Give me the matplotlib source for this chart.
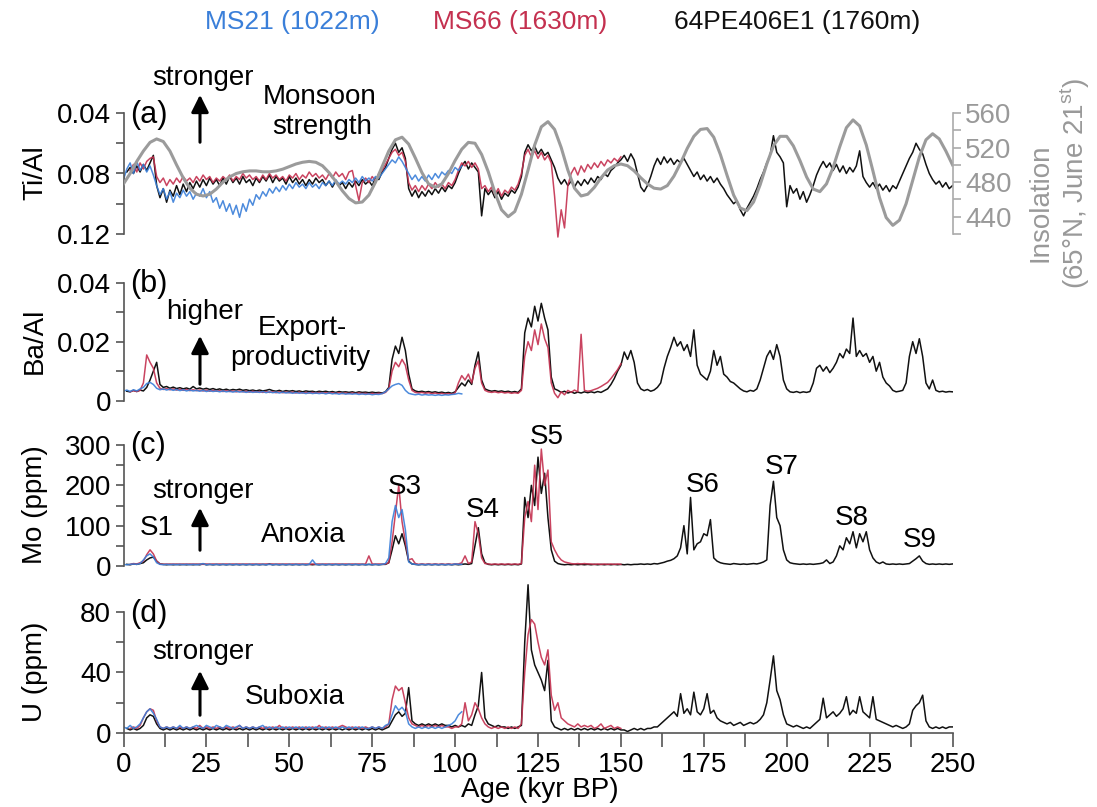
import matplotlib
matplotlib.use("Agg")
import matplotlib.pyplot as plt
import numpy as np

plt.rcParams["font.family"] = ["Liberation Sans", "DejaVu Sans"]
plt.rcParams["mathtext.fontset"] = "custom"
plt.rcParams["mathtext.rm"] = "Liberation Sans"

BLUE = "#3a7fd9"
RED = "#c4304f"
BLACK = "#111111"
GREY = "#9b9b9b"

# sampling grids (kyr BP)
age_blk = np.arange(1, 251)
age_red = np.arange(2, 151)
age_blu = np.arange(0, 103)
age_ins = np.arange(0, 251, 2)

# (a) Ti/Al
tial_blk = [
    0.079, 0.076, 0.080, 0.075, 0.079, 0.074, 0.078, 0.073, 0.068, 0.088,
    0.096, 0.090, 0.099, 0.091, 0.095, 0.088, 0.094, 0.087, 0.092, 0.086,
    0.090, 0.085, 0.089, 0.084, 0.088, 0.083, 0.087, 0.084, 0.088, 0.083,
    0.087, 0.082, 0.086, 0.083, 0.087, 0.082, 0.086, 0.084, 0.088, 0.083,
    0.086, 0.082, 0.085, 0.081, 0.086, 0.082, 0.085, 0.083, 0.087, 0.082,
    0.086, 0.083, 0.087, 0.084, 0.088, 0.084, 0.087, 0.083, 0.086, 0.084,
    0.088, 0.085, 0.089, 0.085, 0.088, 0.086, 0.090, 0.086, 0.089, 0.085,
    0.088, 0.084, 0.087, 0.085, 0.088, 0.083, 0.084, 0.079, 0.076, 0.070,
    0.064, 0.060, 0.066, 0.063, 0.070, 0.090, 0.095, 0.091, 0.096, 0.092,
    0.095, 0.091, 0.094, 0.090, 0.093, 0.089, 0.092, 0.088, 0.090, 0.086,
    0.080, 0.075, 0.072, 0.077, 0.073, 0.076, 0.079, 0.108, 0.090, 0.094,
    0.091, 0.096, 0.092, 0.097, 0.093, 0.095, 0.091, 0.093, 0.089, 0.082,
    0.066, 0.061, 0.065, 0.062, 0.067, 0.064, 0.068, 0.066, 0.071, 0.076,
    0.083, 0.087, 0.084, 0.088, 0.085, 0.089, 0.085, 0.088, 0.084, 0.087,
    0.083, 0.086, 0.082, 0.084, 0.080, 0.082, 0.078, 0.076, 0.073, 0.071,
    0.068, 0.072, 0.067, 0.071, 0.080, 0.089, 0.092, 0.088, 0.082, 0.075,
    0.070, 0.074, 0.069, 0.073, 0.070, 0.074, 0.071, 0.073, 0.070, 0.074,
    0.078, 0.082, 0.079, 0.084, 0.081, 0.085, 0.082, 0.086, 0.083, 0.087,
    0.090, 0.094, 0.097, 0.100, 0.098, 0.104, 0.108, 0.103, 0.099, 0.095,
    0.090, 0.084, 0.079, 0.073, 0.068, 0.055, 0.066, 0.069, 0.073, 0.102,
    0.088, 0.093, 0.090, 0.097, 0.092, 0.099, 0.094, 0.088, 0.081, 0.076,
    0.072, 0.076, 0.073, 0.078, 0.074, 0.079, 0.075, 0.080, 0.076, 0.079,
    0.075, 0.065, 0.082, 0.086, 0.089, 0.086, 0.090, 0.087, 0.091, 0.088,
    0.092, 0.088, 0.090, 0.085, 0.080, 0.075, 0.070, 0.066, 0.060, 0.064,
    0.067, 0.074, 0.080, 0.084, 0.087, 0.085, 0.089, 0.086, 0.090, 0.088,
]
tial_red = [
    0.078, 0.074, 0.079, 0.073, 0.077, 0.072, 0.070, 0.069, 0.082,
    0.086, 0.083, 0.088, 0.084, 0.087, 0.083, 0.086, 0.082, 0.085, 0.083,
    0.086, 0.082, 0.085, 0.081, 0.084, 0.082, 0.086, 0.083, 0.085, 0.082,
    0.084, 0.081, 0.085, 0.082, 0.084, 0.080, 0.083, 0.081, 0.084, 0.082,
    0.085, 0.081, 0.084, 0.080, 0.083, 0.081, 0.084, 0.082, 0.085, 0.081,
    0.083, 0.080, 0.084, 0.081, 0.083, 0.079, 0.082, 0.080, 0.083, 0.081,
    0.084, 0.080, 0.083, 0.079, 0.082, 0.080, 0.084, 0.079, 0.078, 0.088,
    0.098, 0.086, 0.083, 0.086, 0.082, 0.085, 0.080, 0.078, 0.074, 0.070,
    0.066, 0.064, 0.068, 0.066, 0.072, 0.086, 0.091, 0.088, 0.092, 0.088,
    0.091, 0.087, 0.090, 0.086, 0.089, 0.087, 0.090, 0.086, 0.088, 0.084,
    0.078, 0.073, 0.075, 0.072, 0.076, 0.073, 0.077, 0.090, 0.088, 0.092,
    0.089, 0.094, 0.090, 0.095, 0.091, 0.093, 0.089, 0.091, 0.087, 0.080,
    0.068, 0.064, 0.069, 0.065, 0.070, 0.066, 0.071, 0.068, 0.073, 0.095,
    0.122, 0.104, 0.116, 0.088, 0.080, 0.076, 0.081, 0.075, 0.079, 0.074,
    0.077, 0.073, 0.076, 0.072, 0.075, 0.071, 0.073, 0.070, 0.072, 0.069,
]
tial_blu = [
    0.084, 0.077, 0.073, 0.080, 0.072, 0.078, 0.074, 0.079, 0.075, 0.081,
    0.088, 0.094, 0.090, 0.097, 0.092, 0.099, 0.093, 0.096, 0.091, 0.095,
    0.092, 0.097, 0.093, 0.095, 0.090, 0.096, 0.092, 0.099, 0.096, 0.103,
    0.098, 0.105, 0.100, 0.107, 0.101, 0.109, 0.100, 0.105, 0.097, 0.101,
    0.094, 0.097, 0.092, 0.095, 0.090, 0.093, 0.089, 0.092, 0.088, 0.091,
    0.087, 0.090, 0.086, 0.089, 0.087, 0.090, 0.086, 0.089, 0.087, 0.090,
    0.086, 0.088, 0.085, 0.088, 0.084, 0.087, 0.085, 0.087, 0.084, 0.086,
    0.083, 0.086, 0.082, 0.085, 0.083, 0.085, 0.082, 0.083, 0.080, 0.077,
    0.074, 0.071, 0.073, 0.069, 0.072, 0.076, 0.080, 0.084, 0.081, 0.085,
    0.082, 0.085, 0.081, 0.084, 0.080, 0.083, 0.079, 0.081, 0.078, 0.080,
    0.076, 0.078, 0.075,
]
insolation = [
    478, 490, 504, 516, 526, 530, 527, 516, 500, 485,
    473, 466, 464, 466, 472, 480, 486, 490, 492, 493,
    493, 492, 492, 493, 495, 498, 501, 503, 504, 503,
    499, 491, 481, 470, 461, 456, 457, 465, 480, 498,
    516, 529, 532, 524, 508, 491, 478, 474, 478, 490,
    505, 518, 526, 525, 512, 492, 468, 448, 440, 446,
    466, 494, 523, 544, 550, 541, 520, 494, 473, 464,
    466, 474, 485, 494, 499, 501, 499, 493, 485, 478,
    473, 472, 476, 487, 502, 519, 533, 541, 542, 532,
    512, 488, 465, 450, 447, 457, 477, 501, 522, 533,
    533, 522, 505, 486, 472, 469, 478, 497, 521, 543,
    552, 545, 523, 493, 462, 439, 430, 436, 455, 482,
    509, 529, 536, 530, 516, 500,
]

# (b) Ba/Al
baal_blk = [
    0.0032, 0.0030, 0.0035, 0.0031, 0.0036, 0.0033, 0.0045, 0.0070, 0.0100, 0.0130,
    0.0055, 0.0045, 0.0048, 0.0042, 0.0046, 0.0041, 0.0044, 0.0040, 0.0043, 0.0039,
    0.0048, 0.0040, 0.0043, 0.0039, 0.0042, 0.0038, 0.0041, 0.0037, 0.0040, 0.0036,
    0.0039, 0.0035, 0.0038, 0.0036, 0.0039, 0.0035, 0.0037, 0.0034, 0.0036, 0.0033,
    0.0036, 0.0033, 0.0035, 0.0038, 0.0034, 0.0032, 0.0035, 0.0031, 0.0034, 0.0032,
    0.0034, 0.0031, 0.0033, 0.0030, 0.0033, 0.0031, 0.0032, 0.0029, 0.0032, 0.0030,
    0.0032, 0.0029, 0.0031, 0.0028, 0.0031, 0.0029, 0.0030, 0.0028, 0.0030, 0.0027,
    0.0030, 0.0028, 0.0029, 0.0027, 0.0029, 0.0027, 0.0028, 0.0026, 0.0030, 0.0045,
    0.0140, 0.0185, 0.0160, 0.0215, 0.0170, 0.0090, 0.0040, 0.0033, 0.0030, 0.0032,
    0.0029, 0.0031, 0.0028, 0.0030, 0.0027, 0.0029, 0.0026, 0.0028, 0.0025, 0.0030,
    0.0045, 0.0060, 0.0050, 0.0070, 0.0055, 0.0120, 0.0165, 0.0070, 0.0040, 0.0035,
    0.0032, 0.0034, 0.0031, 0.0033, 0.0030, 0.0032, 0.0029, 0.0031, 0.0028, 0.0040,
    0.0230, 0.0280, 0.0250, 0.0320, 0.0270, 0.0330, 0.0280, 0.0240, 0.0080, 0.0040,
    0.0035, 0.0028, 0.0032, 0.0026, 0.0030, 0.0025, 0.0029, 0.0026, 0.0030, 0.0027,
    0.0030, 0.0027, 0.0031, 0.0028, 0.0034, 0.0040, 0.0055, 0.0075, 0.0100, 0.0120,
    0.0165, 0.0140, 0.0170, 0.0130, 0.0060, 0.0040, 0.0034, 0.0038, 0.0032, 0.0036,
    0.0045, 0.0060, 0.0110, 0.0150, 0.0180, 0.0215, 0.0185, 0.0200, 0.0170, 0.0190,
    0.0150, 0.0240, 0.0120, 0.0090, 0.0080, 0.0070, 0.0100, 0.0170, 0.0120, 0.0150,
    0.0090, 0.0080, 0.0065, 0.0060, 0.0050, 0.0040, 0.0033, 0.0030, 0.0035, 0.0032,
    0.0040, 0.0070, 0.0110, 0.0150, 0.0170, 0.0140, 0.0190, 0.0150, 0.0070, 0.0040,
    0.0030, 0.0028, 0.0031, 0.0027, 0.0030, 0.0028, 0.0031, 0.0060, 0.0110, 0.0120,
    0.0100, 0.0115, 0.0095, 0.0110, 0.0130, 0.0160, 0.0145, 0.0175, 0.0160, 0.0280,
    0.0150, 0.0170, 0.0150, 0.0160, 0.0130, 0.0150, 0.0100, 0.0130, 0.0080, 0.0060,
    0.0050, 0.0035, 0.0030, 0.0032, 0.0035, 0.0060, 0.0150, 0.0200, 0.0160, 0.0210,
    0.0150, 0.0060, 0.0040, 0.0070, 0.0035, 0.0030, 0.0032, 0.0029, 0.0031, 0.0030,
]
baal_red = [
    0.0030, 0.0034, 0.0031, 0.0035, 0.0060, 0.0155, 0.0130, 0.0110, 0.0060,
    0.0042, 0.0038, 0.0041, 0.0037, 0.0040, 0.0036, 0.0039, 0.0035, 0.0038, 0.0034,
    0.0037, 0.0034, 0.0036, 0.0033, 0.0036, 0.0032, 0.0035, 0.0032, 0.0034, 0.0031,
    0.0034, 0.0031, 0.0033, 0.0030, 0.0033, 0.0030, 0.0032, 0.0029, 0.0032, 0.0029,
    0.0031, 0.0028, 0.0031, 0.0028, 0.0030, 0.0027, 0.0030, 0.0027, 0.0029, 0.0027,
    0.0029, 0.0026, 0.0029, 0.0026, 0.0028, 0.0026, 0.0028, 0.0025, 0.0028, 0.0025,
    0.0027, 0.0025, 0.0027, 0.0024, 0.0027, 0.0024, 0.0026, 0.0024, 0.0026, 0.0024,
    0.0026, 0.0024, 0.0025, 0.0023, 0.0025, 0.0023, 0.0025, 0.0024, 0.0028, 0.0040,
    0.0100, 0.0130, 0.0115, 0.0140, 0.0120, 0.0070, 0.0035, 0.0028, 0.0026, 0.0028,
    0.0025, 0.0027, 0.0024, 0.0026, 0.0023, 0.0025, 0.0022, 0.0024, 0.0022, 0.0026,
    0.0060, 0.0085, 0.0070, 0.0090, 0.0060, 0.0110, 0.0135, 0.0060, 0.0035, 0.0030,
    0.0028, 0.0030, 0.0027, 0.0029, 0.0026, 0.0028, 0.0025, 0.0027, 0.0025, 0.0035,
    0.0150, 0.0200, 0.0170, 0.0240, 0.0190, 0.0260, 0.0210, 0.0180, 0.0060, 0.0025,
    0.0010, 0.0030, 0.0020, 0.0035, 0.0028, 0.0036, 0.0030, 0.0225, 0.0035, 0.0032,
    0.0034, 0.0038, 0.0042, 0.0048, 0.0055, 0.0062, 0.0075, 0.0090, 0.0105, 0.0125,
]
baal_blu = [
    0.0032, 0.0036, 0.0031, 0.0037, 0.0033, 0.0040, 0.0045, 0.0058, 0.0062, 0.0055,
    0.0042, 0.0037, 0.0040, 0.0036, 0.0039, 0.0035, 0.0038, 0.0034, 0.0037, 0.0033,
    0.0036, 0.0033, 0.0035, 0.0032, 0.0035, 0.0031, 0.0034, 0.0031, 0.0033, 0.0030,
    0.0033, 0.0030, 0.0032, 0.0029, 0.0032, 0.0029, 0.0031, 0.0028, 0.0031, 0.0028,
    0.0030, 0.0028, 0.0031, 0.0027, 0.0030, 0.0027, 0.0029, 0.0026, 0.0029, 0.0026,
    0.0028, 0.0025, 0.0028, 0.0025, 0.0027, 0.0024, 0.0027, 0.0024, 0.0026, 0.0024,
    0.0026, 0.0023, 0.0026, 0.0023, 0.0025, 0.0022, 0.0025, 0.0022, 0.0024, 0.0022,
    0.0024, 0.0021, 0.0023, 0.0021, 0.0023, 0.0020, 0.0022, 0.0021, 0.0024, 0.0030,
    0.0040, 0.0050, 0.0055, 0.0058, 0.0052, 0.0035, 0.0025, 0.0022, 0.0020, 0.0022,
    0.0019, 0.0021, 0.0019, 0.0020, 0.0018, 0.0020, 0.0018, 0.0020, 0.0019, 0.0021,
    0.0022, 0.0025, 0.0023,
]

# (c) Mo (ppm)
mo_blk = [
    4, 3, 5, 4, 6, 8, 15, 20, 22, 12,
    5, 4, 3, 4, 3, 4, 3, 4, 3, 4,
    3, 4, 3, 5, 3, 4, 3, 4, 3, 4,
    3, 4, 3, 4, 3, 4, 3, 4, 3, 4,
    3, 4, 3, 5, 3, 4, 3, 4, 3, 4,
    3, 4, 3, 4, 3, 4, 3, 4, 3, 4,
    3, 4, 3, 4, 3, 4, 3, 4, 3, 4,
    3, 4, 3, 4, 3, 4, 3, 4, 4, 8,
    40, 75, 55, 80, 50, 12, 5, 4, 3, 4,
    3, 4, 3, 4, 3, 4, 3, 4, 3, 4,
    3, 4, 5, 4, 6, 50, 95, 30, 8, 4,
    3, 4, 3, 4, 3, 4, 3, 4, 3, 5,
    170, 120, 200, 150, 270, 180, 230, 120, 40, 12,
    6, 4, 3, 4, 3, 4, 3, 4, 3, 4,
    3, 4, 3, 4, 3, 4, 3, 4, 3, 4,
    3, 4, 3, 4, 4, 5, 4, 5, 4, 6,
    5, 7, 9, 12, 14, 18, 25, 45, 100, 30,
    170, 40, 55, 60, 80, 75, 115, 20, 12, 8,
    6, 5, 4, 6, 5, 4, 5, 4, 5, 6,
    5, 7, 10, 15, 150, 210, 120, 100, 40, 15,
    8, 6, 5, 4, 5, 4, 5, 4, 5, 6,
    8, 15, 6, 10, 25, 50, 40, 70, 55, 85,
    45, 80, 60, 85, 40, 20, 10, 6, 10, 5,
    4, 5, 4, 5, 4, 5, 6, 12, 18, 25,
    12, 6, 4, 5, 4, 5, 4, 5, 4, 5,
]
mo_red = [
    4, 6, 5, 8, 12, 28, 40, 30, 12,
    5, 4, 5, 4, 5, 4, 5, 4, 5, 4,
    5, 4, 5, 4, 5, 4, 5, 4, 5, 4,
    5, 4, 5, 4, 5, 4, 5, 4, 5, 4,
    5, 4, 5, 4, 5, 4, 5, 4, 5, 4,
    5, 4, 5, 4, 5, 4, 5, 4, 5, 4,
    5, 4, 5, 4, 5, 4, 5, 4, 5, 4,
    5, 4, 5, 25, 5, 4, 5, 4, 5, 8,
    60, 130, 200, 110, 60, 15, 18, 6, 4, 5,
    4, 5, 4, 5, 4, 5, 4, 5, 4, 5,
    5, 8, 25, 6, 10, 110, 80, 20, 6, 5,
    4, 5, 4, 5, 4, 5, 4, 5, 4, 6,
    120, 160, 110, 250, 140, 290, 200, 238, 60, 40,
    25, 15, 10, 8, 6, 5, 6, 5, 6, 5,
    5, 4, 5, 4, 5, 4, 5, 4, 5, 4,
]
mo_blu = [
    4, 3, 4, 5, 4, 6, 15, 25, 30, 22,
    8, 4, 3, 4, 3, 4, 3, 4, 3, 4,
    3, 4, 3, 4, 6, 3, 4, 3, 4, 3,
    4, 3, 4, 3, 4, 3, 4, 3, 4, 3,
    4, 3, 4, 3, 4, 3, 4, 3, 4, 3,
    4, 3, 4, 3, 4, 3, 4, 15, 4, 3,
    4, 3, 4, 3, 4, 3, 4, 3, 4, 3,
    4, 3, 4, 3, 4, 3, 4, 3, 4, 6,
    20, 110, 150, 120, 140, 90, 10, 5, 4, 3,
    4, 3, 4, 3, 4, 3, 4, 3, 4, 3,
    5, 4, 4,
]

# (d) U (ppm)
u_blk = [
    3, 2, 3, 2, 3, 5, 10, 12, 11, 6,
    3, 2, 3, 2, 3, 2, 3, 2, 3, 2,
    3, 2, 3, 2, 3, 2, 3, 2, 3, 2,
    3, 2, 3, 2, 3, 2, 3, 2, 3, 2,
    3, 2, 3, 2, 3, 2, 3, 2, 3, 2,
    3, 2, 3, 2, 3, 2, 3, 2, 3, 2,
    3, 2, 3, 2, 3, 2, 3, 2, 3, 2,
    3, 2, 3, 2, 3, 2, 3, 2, 3, 4,
    8, 12, 14, 11, 13, 30, 8, 6, 5, 6,
    5, 6, 5, 6, 5, 6, 5, 5, 4, 5,
    4, 5, 4, 6, 5, 12, 18, 40, 10, 6,
    5, 4, 5, 4, 4, 3, 4, 3, 4, 5,
    60, 98, 55, 45, 40, 35, 28, 48, 8, 4,
    3, 2, 3, 2, 3, 2, 3, 2, 3, 2,
    3, 2, 3, 2, 3, 2, 3, 2, 3, 2,
    2, 1, 2, 3, 2, 3, 2, 3, 3, 4,
    4, 6, 8, 10, 12, 14, 11, 26, 13, 16,
    12, 27, 14, 12, 16, 26, 13, 15, 10, 8,
    7, 6, 7, 5, 6, 7, 5, 6, 7, 6,
    7, 9, 12, 20, 35, 51, 28, 22, 12, 6,
    5, 4, 5, 4, 3, 4, 3, 5, 7, 9,
    23, 10, 12, 14, 11, 13, 16, 24, 12, 15,
    13, 24, 14, 12, 10, 24, 9, 8, 7, 6,
    5, 4, 5, 4, 3, 4, 6, 15, 18, 20,
    25, 8, 4, 3, 4, 3, 4, 3, 4, 4,
]
u_red = [
    3, 4, 3, 5, 10, 14, 16, 15, 8,
    4, 3, 4, 3, 4, 3, 4, 3, 4, 3,
    4, 3, 5, 3, 4, 3, 4, 3, 4, 3,
    4, 3, 4, 3, 5, 3, 4, 3, 4, 3,
    4, 3, 4, 3, 4, 3, 5, 3, 4, 3,
    4, 3, 4, 3, 4, 3, 4, 3, 5, 3,
    4, 3, 4, 3, 4, 5, 4, 3, 4, 3,
    4, 3, 4, 3, 4, 3, 4, 3, 4, 6,
    22, 31, 28, 30, 20, 10, 6, 5, 4, 5,
    4, 5, 4, 5, 4, 5, 4, 4, 3, 4,
    4, 6, 20, 8, 12, 20, 16, 10, 6, 4,
    3, 4, 3, 4, 3, 4, 3, 4, 3, 6,
    40, 65, 75, 72, 60, 50, 45, 55, 25, 15,
    20, 10, 8, 6, 5, 4, 6, 4, 5, 4,
    5, 3, 4, 6, 3, 4, 5, 3, 4, 3,
]
u_blu = [
    4, 3, 5, 3, 4, 6, 10, 14, 16, 13,
    9, 4, 3, 4, 3, 4, 3, 5, 3, 4,
    3, 4, 5, 4, 3, 5, 4, 3, 5, 4,
    3, 5, 4, 3, 4, 5, 3, 4, 3, 4,
    3, 4, 5, 3, 4, 3, 4, 3, 4, 3,
    4, 3, 4, 3, 4, 3, 4, 3, 4, 3,
    4, 3, 4, 3, 4, 3, 4, 3, 4, 3,
    4, 3, 4, 3, 3, 4, 3, 4, 3, 5,
    6, 12, 18, 15, 17, 14, 6, 4, 3, 4,
    3, 4, 3, 4, 3, 4, 3, 4, 5, 6,
    8, 12, 14,
]

W, H = 1097, 807
X0, X1 = 123.5, 952.5
FS = 20


def fx(px):
    return px / W


def fy(py):
    return 1 - py / H


def add_panel(fig, top, bottom):
    ax = fig.add_axes([fx(X0), fy(bottom), (X1 - X0) / W, (bottom - top) / H])
    ax.patch.set_alpha(0)
    ax.set_xlim(0, 250)
    for side in ("top", "right", "bottom"):
        ax.spines[side].set_visible(False)
    ax.spines["left"].set_color("#555555")
    ax.spines["left"].set_linewidth(1.2)
    ax.tick_params(axis="y", which="both", direction="out", length=6, width=1.2,
                   color="#555555", labelsize=FS, pad=3)
    ax.tick_params(axis="x", which="both", bottom=False, labelbottom=False)
    return ax


def draw_series(ax, blk, red, blu):
    ax.plot(age_blk, blk, color=BLACK, lw=1.1)
    ax.plot(age_red, red, color=RED, lw=1.1, alpha=0.9)
    ax.plot(age_blu, blu, color=BLUE, lw=1.1, alpha=0.9)


fig = plt.figure(figsize=(W / 100, H / 100), dpi=100)

# panel (a)
ax_a = add_panel(fig, 105.44, 241.56)
ax_a.set_ylim(0.125, 0.035)
draw_series(ax_a, tial_blk, tial_red, tial_blu)
ax_a.spines["left"].set_bounds(0.04, 0.12)
ax_a.set_yticks([0.04, 0.08, 0.12])
ax_a.set_yticklabels(["0.04", "0.08", "0.12"])
ax_a.set_yticks([0.06, 0.10], minor=True)

ax_ins = ax_a.twinx()
ax_ins.patch.set_alpha(0)
ax_ins.set_ylim(411.25, 568.75)
ax_ins.plot(age_ins, insolation, color=GREY, lw=2.2)
for side in ("top", "left", "bottom"):
    ax_ins.spines[side].set_visible(False)
ax_ins.spines["right"].set_bounds(420, 560)
ax_ins.spines["right"].set_color("#aaaaaa")
ax_ins.spines["right"].set_linewidth(1.2)
ax_ins.set_yticks([440, 480, 520, 560])
ax_ins.set_yticks([420, 460, 500, 540], minor=True)
ax_ins.tick_params(axis="y", which="both", direction="out", length=6, width=1.2,
                   color="#aaaaaa", labelcolor="#999999", labelsize=FS, pad=3)

# panel (b)
ax_b = add_panel(fig, 275.3, 405.1)
ax_b.set_ylim(-0.0015, 0.0425)
draw_series(ax_b, baal_blk, baal_red, baal_blu)
ax_b.spines["left"].set_bounds(0, 0.04)
ax_b.set_yticks([0, 0.02, 0.04])
ax_b.set_yticklabels(["0", "0.02", "0.04"])
ax_b.set_yticks([0.01, 0.03], minor=True)

# panel (c)
ax_c = add_panel(fig, 441.0, 569.2)
ax_c.set_ylim(-8, 310)
draw_series(ax_c, mo_blk, mo_red, mo_blu)
ax_c.spines["left"].set_bounds(0, 300)
ax_c.set_yticks([0, 100, 200, 300])
ax_c.set_yticks([50, 150, 250], minor=True)

# panel (d)
ax_d = add_panel(fig, 581.75, 736.0)
ax_d.set_ylim(-2, 100)
draw_series(ax_d, u_blk, u_red, u_blu)
ax_d.spines["left"].set_bounds(0, 80)
ax_d.set_yticks([0, 40, 80])
ax_d.set_yticks([20, 60], minor=True)
ax_d.spines["bottom"].set_visible(True)
ax_d.spines["bottom"].set_position(("data", 0))
ax_d.spines["bottom"].set_bounds(0, 250)
ax_d.spines["bottom"].set_color("#555555")
ax_d.spines["bottom"].set_linewidth(1.2)
ax_d.set_xticks(np.arange(0, 251, 25))
ax_d.set_xticks(np.arange(12.5, 250, 25), minor=True)
ax_d.tick_params(axis="x", which="both", bottom=True, labelbottom=True, direction="out",
                 length=10, width=1.2, color="#555555", labelsize=FS, pad=4)

# axis titles
fig.text(fx(35), fy(173), "Ti/Al", rotation=90, ha="center", va="center", fontsize=FS)
fig.text(fx(35), fy(341), "Ba/Al", rotation=90, ha="center", va="center", fontsize=FS)
fig.text(fx(35), fy(505), "Mo (ppm)", rotation=90, ha="center", va="center", fontsize=FS)
fig.text(fx(35), fy(672), "U (ppm)", rotation=90, ha="center", va="center", fontsize=FS)
fig.text(fx(540), fy(790), "Age (kyr BP)", ha="center", va="center", fontsize=FS)
fig.text(fx(1040), fy(203), "Insolation", rotation=90, ha="center", va="center",
         fontsize=FS, color="#999999")
fig.text(fx(1075), fy(183), "(65°N, June 21$^{\\mathrm{st}}$)", rotation=90, ha="center",
         va="center", fontsize=FS, color="#999999")

# legend line
fig.text(fx(292), fy(22), "MS21 (1022m)", ha="center", va="center", fontsize=19, color=BLUE)
fig.text(fx(520), fy(22), "MS66 (1630m)", ha="center", va="center", fontsize=19, color=RED)
fig.text(fx(797), fy(22), "64PE406E1 (1760m)", ha="center", va="center", fontsize=19,
         color=BLACK)

# panel letters
for lab, yc in (("(a)", 115), ("(b)", 284), ("(c)", 446), ("(d)", 614)):
    fig.text(fx(130), fy(yc), lab, ha="left", va="center", fontsize=FS + 2)

# annotations
notes = [
    ("stronger", 203, 78), ("Monsoon", 320, 97), ("strength", 322, 127),
    ("higher", 205, 312), ("Export-", 302, 328), ("productivity", 300, 358),
    ("stronger", 203, 491), ("S1", 157, 528), ("Anoxia", 303, 535),
    ("S3", 405, 487), ("S4", 483, 510), ("S5", 547, 437), ("S6", 703, 485),
    ("S7", 782, 467), ("S8", 852, 518), ("S9", 920, 540),
    ("stronger", 203, 652), ("Suboxia", 295, 697),
]
for txt, x, y in notes:
    fig.text(fx(x), fy(y), txt, ha="center", va="center", fontsize=FS)

for y_tail, y_head in ((145, 92), (387, 333), (553, 505), (718, 668)):
    fig.add_artist(matplotlib.patches.FancyArrowPatch(
        (fx(200), fy(y_tail)), (fx(200), fy(y_head)), transform=fig.transFigure,
        arrowstyle="-|>", mutation_scale=26, lw=2.2, color="black"))

fig.savefig("out.png", dpi=100)
